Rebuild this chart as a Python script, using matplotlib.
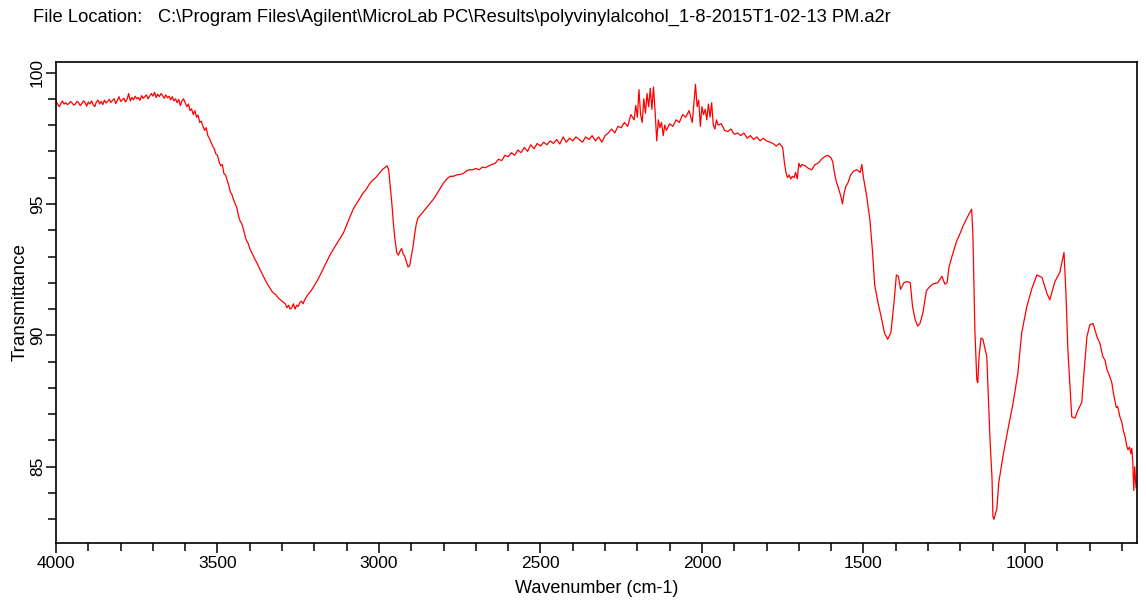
import matplotlib
matplotlib.use("Agg")
import matplotlib.pyplot as plt
from matplotlib.ticker import MultipleLocator, FixedLocator
from matplotlib.transforms import Bbox, TransformedBbox

plt.rcParams['font.family'] = ['Liberation Sans', 'DejaVu Sans']

header_label = "File Location:"
header_path = r"C:\Program Files\Agilent\MicroLab PC\Results\polyvinylalcohol_1-8-2015T1-02-13 PM.a2r"
x_label = "Wavenumber (cm-1)"
y_label = "Transmittance"
x_ticks = [4000, 3500, 3000, 2500, 2000, 1500, 1000]
y_ticks = [85, 90, 95, 100]

wavenumber = [
    4000, 3995, 3990, 3985, 3980, 3975, 3970, 3965, 3960, 3955, 3950, 3945, 3940, 3935, 3930,
    3925, 3920, 3915, 3910, 3905, 3900, 3895, 3890, 3885, 3880, 3875, 3870, 3865, 3860, 3855,
    3850, 3845, 3840, 3835, 3830, 3825, 3820, 3815, 3810, 3805, 3800, 3795, 3790, 3785, 3780,
    3775, 3770, 3765, 3760, 3755, 3750, 3745, 3740, 3735, 3730, 3725, 3720, 3715, 3710, 3705,
    3700, 3695, 3690, 3685, 3680, 3675, 3670, 3665, 3660, 3655, 3650, 3645, 3640, 3635, 3630,
    3625, 3620, 3615, 3610, 3605, 3600, 3595, 3590, 3585, 3580, 3575, 3570, 3565, 3560, 3555,
    3550, 3545, 3540, 3535, 3530, 3525, 3520, 3515, 3510, 3505, 3500, 3495, 3490, 3485, 3480,
    3475, 3470, 3465, 3460, 3455, 3450, 3445, 3440, 3435, 3430, 3425, 3420, 3415, 3410, 3405,
    3400, 3390, 3380, 3370, 3360, 3350, 3340, 3330, 3320, 3310, 3300, 3290, 3285, 3280, 3275,
    3270, 3265, 3260, 3255, 3250, 3245, 3240, 3235, 3230, 3220, 3210, 3200, 3190, 3180, 3170,
    3160, 3150, 3140, 3130, 3120, 3110, 3100, 3090, 3080, 3070, 3060, 3050, 3040, 3030, 3020,
    3010, 3000, 2990, 2980, 2975, 2970,
    2960, 2955, 2950, 2945, 2940, 2935, 2930, 2925, 2920, 2915, 2910, 2905, 2900, 2895, 2890,
    2885, 2880, 2870, 2860, 2850, 2840, 2830, 2820, 2810, 2800, 2790, 2780, 2770, 2760, 2750,
    2740, 2730, 2720, 2710, 2700, 2690, 2680, 2670, 2660, 2650, 2640, 2630, 2620, 2610, 2600,
    2590, 2580, 2570, 2560, 2550, 2540, 2530, 2520, 2510, 2500, 2490, 2480, 2470, 2460, 2450,
    2440, 2430, 2420, 2410, 2400, 2390, 2380, 2370, 2360, 2350, 2340, 2330, 2320, 2310, 2300,
    2290, 2280, 2270, 2260, 2250, 2240, 2230, 2220, 2210, 2205, 2200, 2195, 2190, 2185, 2180,
    2175, 2170, 2165, 2160, 2155, 2150, 2145, 2140, 2135, 2130, 2125, 2120, 2115, 2110, 2100,
    2090, 2080, 2070, 2060, 2050, 2040, 2030, 2020, 2015, 2010, 2005, 2000, 1995, 1990, 1985,
    1980, 1975, 1970, 1965, 1960, 1955, 1950, 1940, 1930, 1920, 1910, 1900, 1890, 1880, 1870,
    1860, 1850, 1840, 1830, 1820, 1810, 1800, 1790, 1780, 1770, 1760, 1750, 1745, 1740, 1735,
    1730, 1725, 1720, 1715, 1710, 1705, 1700, 1695, 1690, 1680, 1670, 1660, 1650, 1640, 1630,
    1620, 1610, 1600, 1595, 1590, 1585, 1575, 1570, 1565, 1560, 1555, 1548, 1540, 1530, 1520,
    1510, 1505, 1500, 1490, 1480, 1472, 1465, 1455, 1445, 1435, 1425, 1415, 1405, 1398, 1392,
    1385, 1375, 1365, 1355, 1348, 1340, 1332, 1325, 1316, 1305, 1295, 1285, 1270, 1257, 1248,
    1241, 1235, 1226, 1211, 1200, 1192, 1176, 1165, 1161, 1155, 1149, 1146, 1142, 1136, 1130,
    1122, 1118, 1115, 1108, 1102, 1099, 1096, 1087, 1081, 1068, 1053, 1037, 1022, 1010, 994,
    978, 963, 947, 932, 923, 907, 892, 879, 873, 867, 861, 855, 845, 836, 824,
    818, 808, 799, 789, 777, 768, 759, 752, 746, 738, 731, 726, 722, 717, 713,
    706, 700, 695, 690, 685, 681, 676, 672, 669, 666, 663, 660, 658, 656,
]

transmittance = [
    98.90, 98.80, 98.70, 98.82, 98.92, 98.80, 98.85, 98.78, 98.82, 98.90, 98.84, 98.76, 98.80, 98.90, 98.86,
    98.74, 98.82, 98.92, 98.86, 98.72, 98.88, 98.80, 98.92, 98.78, 98.70, 98.88, 98.95, 98.80, 98.90, 98.78,
    98.95, 98.84, 98.90, 98.98, 98.86, 98.94, 99.00, 98.82, 98.94, 99.08, 98.90, 98.96, 99.02, 98.88, 98.98,
    99.20, 98.92, 99.05, 98.96, 99.10, 99.00, 99.05, 98.94, 99.12, 99.02, 99.08, 99.15, 99.00, 99.10, 99.20,
    99.10, 99.25, 99.05, 99.18, 99.08, 99.20, 99.12, 99.02, 99.15, 99.04, 99.10, 98.96, 99.08, 98.92, 99.00,
    98.85, 98.98, 98.74, 98.92, 99.00, 98.85, 98.70, 98.80, 98.55, 98.62, 98.40, 98.55, 98.30, 98.38, 98.10,
    98.15, 97.95, 97.80, 97.90, 97.60, 97.50, 97.35, 97.20, 97.10, 96.90, 96.85, 96.60, 96.45, 96.50, 96.15,
    96.10, 95.90, 95.70, 95.45, 95.35, 95.15, 95.00, 94.85, 94.55, 94.35, 94.25, 94.05, 93.80, 93.60, 93.50,
    93.30, 93.05, 92.80, 92.55, 92.30, 92.05, 91.85, 91.65, 91.55, 91.40, 91.30, 91.20, 91.05, 91.15, 91.00,
    91.05, 91.20, 91.00, 91.15, 91.10, 91.25, 91.30, 91.20, 91.35, 91.55, 91.70, 91.90, 92.10, 92.35, 92.60,
    92.85, 93.10, 93.30, 93.50, 93.70, 93.90, 94.20, 94.50, 94.80, 95.00, 95.20, 95.40, 95.55, 95.75, 95.90,
    96.00, 96.15, 96.30, 96.40, 96.45, 96.30,
    95.00, 94.20, 93.60, 93.15, 93.05, 93.20, 93.30, 93.10, 93.00, 92.80, 92.60, 92.65, 93.00, 93.35, 93.80,
    94.20, 94.45, 94.60, 94.75, 94.90, 95.05, 95.20, 95.40, 95.60, 95.80, 95.95, 96.05, 96.05, 96.10, 96.12,
    96.15, 96.25, 96.30, 96.30, 96.35, 96.30, 96.40, 96.38, 96.45, 96.50, 96.55, 96.70, 96.65, 96.85, 96.80,
    96.95, 96.85, 97.05, 96.95, 97.15, 97.00, 97.25, 97.10, 97.30, 97.20, 97.35, 97.25, 97.40, 97.30, 97.45,
    97.28, 97.55, 97.35, 97.50, 97.40, 97.55, 97.45, 97.35, 97.55, 97.45, 97.60, 97.40, 97.55, 97.35, 97.60,
    97.70, 97.85, 97.70, 97.95, 97.90, 98.10, 97.95, 98.40, 98.20, 98.75, 98.30, 99.35, 98.40, 98.10, 99.00,
    98.45, 99.20, 98.70, 99.40, 98.60, 99.45, 98.50, 97.40, 98.20, 97.90, 98.10, 97.60, 98.00, 97.80, 98.05,
    97.95, 98.20, 98.10, 98.40, 98.30, 98.55, 98.10, 99.55, 98.70, 98.95, 97.95, 98.70, 98.40, 98.60, 98.20,
    98.80, 98.30, 98.85, 98.00, 97.85, 98.20, 98.00, 98.05, 97.80, 97.75, 97.85, 97.65, 97.70, 97.60, 97.70,
    97.50, 97.60, 97.45, 97.55, 97.40, 97.50, 97.40, 97.35, 97.30, 97.20, 97.30, 97.15, 96.60, 96.20, 96.00,
    96.10, 95.95, 96.05, 96.00, 96.20, 95.95, 96.55, 96.40, 96.50, 96.45, 96.35, 96.30, 96.50, 96.55, 96.70,
    96.80, 96.85, 96.75, 96.60, 96.20, 95.90, 95.50, 95.30, 95.00, 95.40, 95.65, 95.80, 96.10, 96.25, 96.30,
    96.20, 96.50, 96.00, 95.30, 94.40, 93.20, 91.90, 91.25, 90.70, 90.10, 89.85, 90.10, 91.30, 92.30, 92.25,
    91.75, 92.00, 92.05, 92.00, 91.10, 90.60, 90.35, 90.45, 90.85, 91.70, 91.85, 91.95, 92.00, 92.25, 91.95,
    92.00, 92.60, 93.00, 93.60, 93.90, 94.15, 94.55, 94.80, 93.80, 90.20, 88.30, 88.20, 89.20, 89.90, 89.85,
    89.40, 89.20, 88.20, 86.00, 84.60, 83.10, 83.00, 83.40, 84.40, 85.40, 86.40, 87.40, 88.55, 90.10, 91.10,
    91.80, 92.30, 92.20, 91.60, 91.35, 92.05, 92.40, 93.15, 91.60, 89.45, 88.20, 86.90, 86.85, 87.15, 87.45,
    88.45, 89.95, 90.40, 90.45, 89.95, 89.70, 89.20, 89.05, 88.70, 88.45, 88.20, 87.80, 87.55, 87.25, 87.30,
    86.90, 86.70, 86.35, 86.15, 85.80, 85.65, 85.75, 85.50, 85.70, 85.15, 84.10, 85.00, 84.60, 84.20,
]

fig = plt.figure(figsize=(11.46, 6.04), dpi=100)
ax = fig.add_axes([56 / 1146, 1 - 543 / 604, (1137 - 56) / 1146, (543 - 62) / 604])

ax.plot(wavenumber, transmittance, color="#ff0000", linewidth=0.9)

ax.set_xlim(4000, 653)
ax.set_ylim(82.1, 100.4)
ax.xaxis.set_major_locator(FixedLocator(x_ticks))
ax.xaxis.set_minor_locator(MultipleLocator(100))
ax.yaxis.set_major_locator(FixedLocator(y_ticks))
ax.yaxis.set_minor_locator(MultipleLocator(1))

for side in ["top", "right", "left", "bottom"]:
    ax.spines[side].set_linewidth(1.2)
    ax.spines[side].set_color("black")

ax.tick_params(axis="both", which="major", direction="out", length=7, width=1.1,
               labelsize=12.5, colors="black")
ax.tick_params(axis="both", which="minor", direction="out", length=6, width=1.1)
ax.tick_params(axis="x", which="major", pad=2)
ax.tick_params(axis="y", which="major", pad=1, labelrotation=90)
for lab in ax.get_yticklabels():
    lab.set_va("center")

ax.set_xlabel(x_label, fontsize=13)
ax.xaxis.set_label_coords(0.5, -0.094)
ax.xaxis.label.set_va("center")
ax.set_ylabel(y_label, fontsize=13.5)
ax.yaxis.set_label_coords(-36 / 1081, 0.5)
ax.yaxis.label.set_va("center")

fig.text(33 / 1146, 1 - 17 / 604, header_label, fontsize=13.2, va="center", ha="left")
fig.text(158 / 1146, 1 - 17 / 604, header_path, fontsize=13.2, va="center", ha="left")

fig.canvas.draw()
clip = TransformedBbox(Bbox([[0, 0], [1, 1 - 60 / 604]]), fig.transFigure)
for t in ax.yaxis.get_major_ticks():
    t.label1.set_clip_box(clip)
    t.label1.set_clip_on(True)

fig.savefig("out.png", dpi=100)
